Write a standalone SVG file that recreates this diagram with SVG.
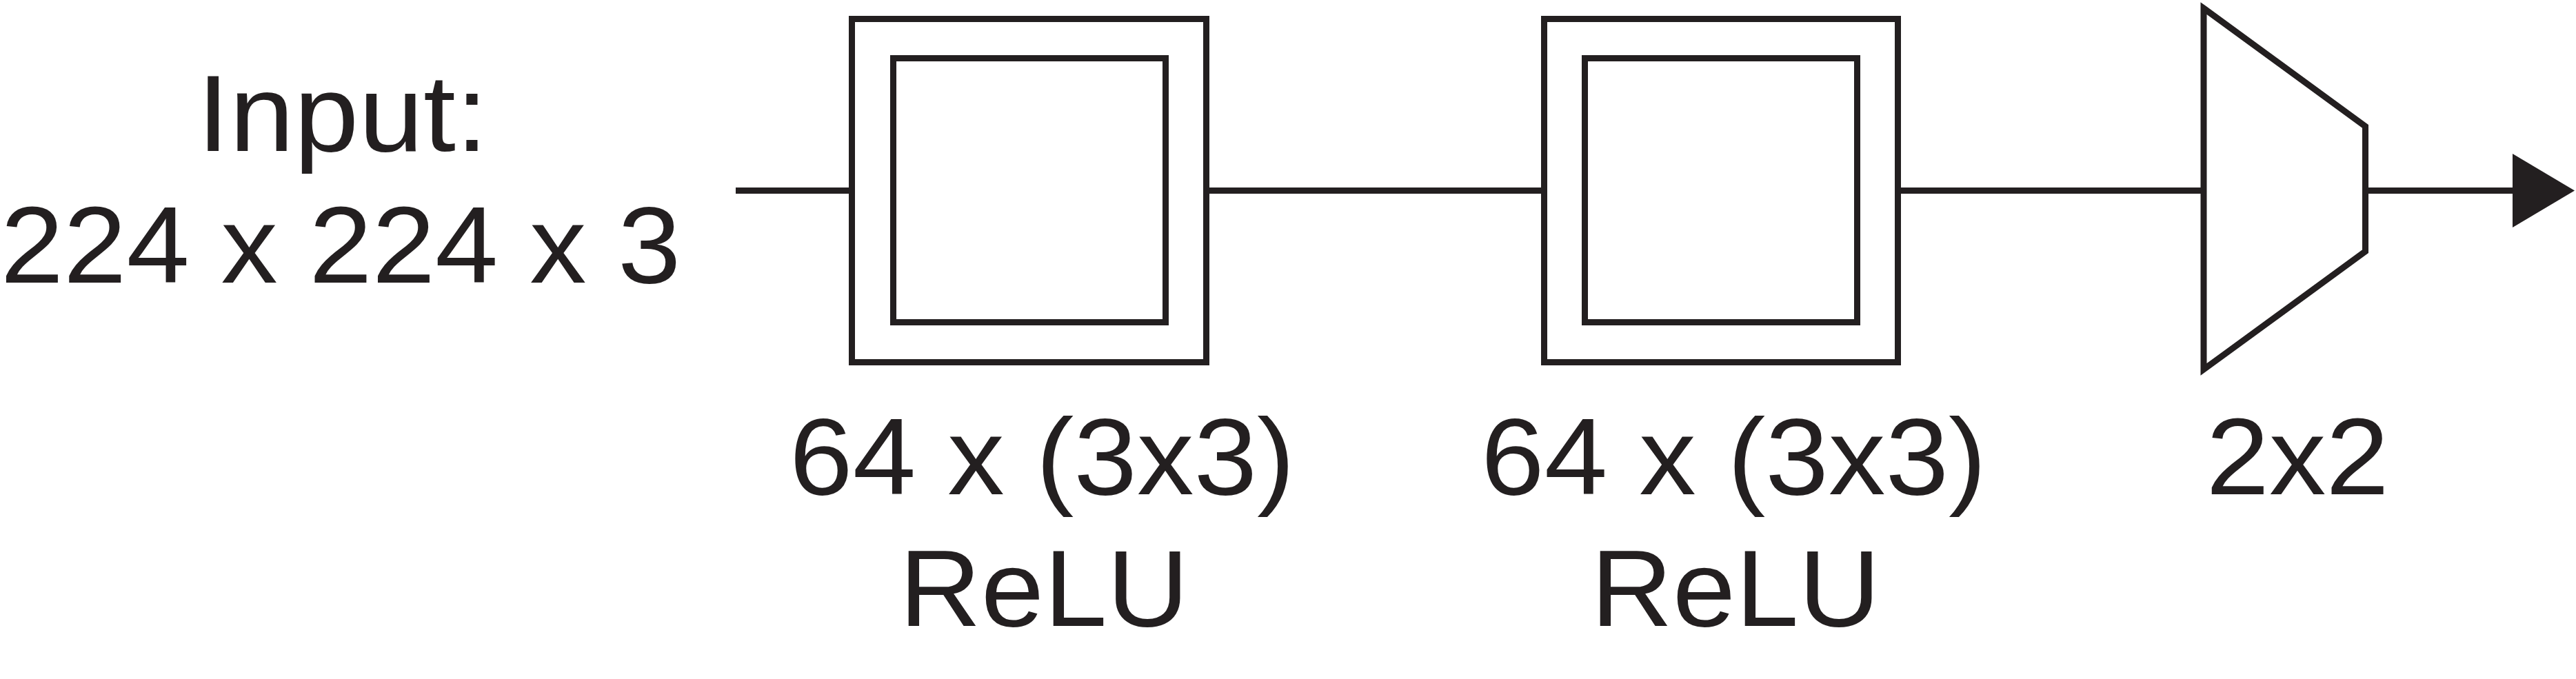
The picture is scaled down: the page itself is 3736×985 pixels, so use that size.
<svg xmlns="http://www.w3.org/2000/svg" width="3736" height="985" viewBox="0 0 3736 985">
<style>
.s{fill:none;stroke:#231f20;stroke-width:9;stroke-miterlimit:10}
.t{font-family:"Liberation Sans",Arial,Helvetica,sans-serif;font-size:157px;fill:#231f20}
</style>
<rect width="3736" height="985" fill="#ffffff"/>
<g id="input">
<text class="t" x="285.8" y="219" textLength="422" lengthAdjust="spacingAndGlyphs">Input:</text>
<text class="t" x="0.7" y="410" textLength="986.7" lengthAdjust="spacingAndGlyphs">224 x 224 x 3</text>
</g>
<g id="conv1">
<rect class="s" x="1235.5" y="27.5" width="514" height="498"/>
<rect class="s" x="1295.5" y="84.5" width="395" height="383"/>
<text class="t" x="1145" y="716.7" textLength="733" lengthAdjust="spacingAndGlyphs">64 x (3x3)</text>
<text class="t" x="1304.3" y="908" textLength="419.8" lengthAdjust="spacingAndGlyphs">ReLU</text>
</g>
<g id="conv2">
<rect class="s" x="2239.5" y="27.5" width="513" height="498"/>
<rect class="s" x="2298.5" y="84.5" width="395" height="383"/>
<text class="t" x="2148" y="716.7" textLength="733" lengthAdjust="spacingAndGlyphs">64 x (3x3)</text>
<text class="t" x="2307.3" y="908" textLength="419.8" lengthAdjust="spacingAndGlyphs">ReLU</text>
</g>
<g id="pool">
<polygon class="s" points="3196,12 3430.5,183.3 3430.5,364.7 3196,536"/>
<text class="t" x="3199.4" y="716.7" textLength="265.6" lengthAdjust="spacingAndGlyphs">2x2</text>
</g>
<g id="connectors">
<line class="s" x1="1067" y1="276.5" x2="1235.5" y2="276.5"/>
<line class="s" x1="1749.5" y1="276.5" x2="2239.5" y2="276.5"/>
<line class="s" x1="2752.5" y1="276.5" x2="3196" y2="276.5"/>
<line class="s" x1="3430.5" y1="276.5" x2="3646" y2="276.5"/>
<polygon points="3644,223 3734,276.5 3644,330" fill="#231f20"/>
</g>
</svg>
